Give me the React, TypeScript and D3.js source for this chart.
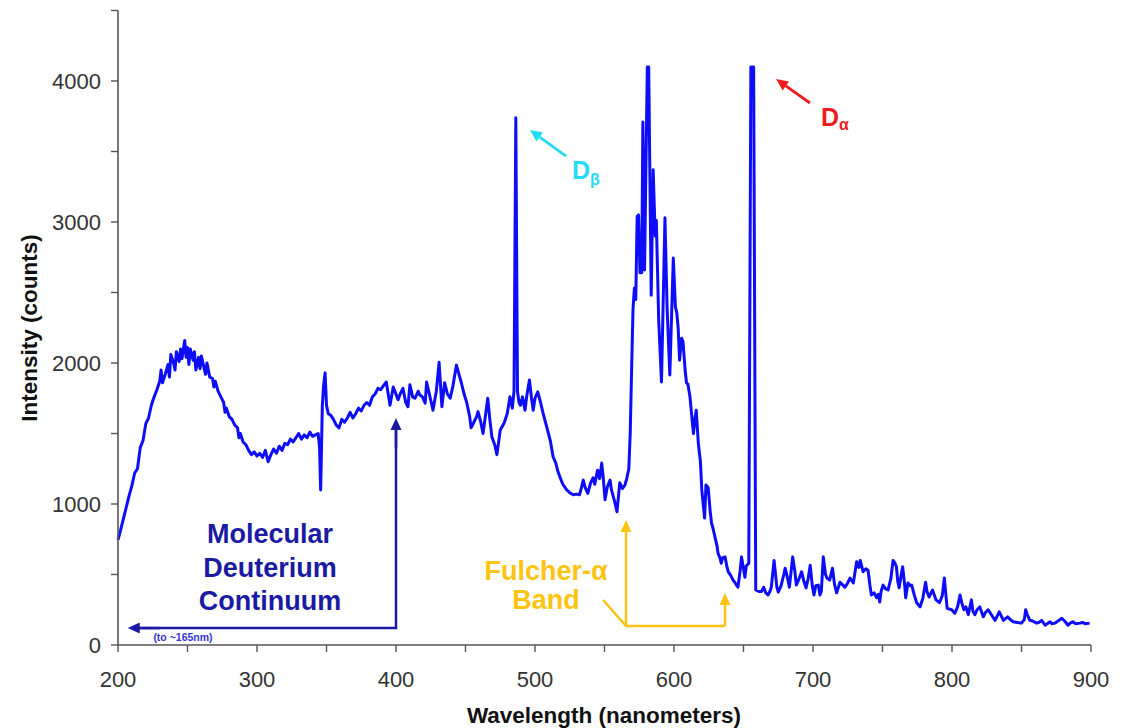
import React from 'react';
import * as d3 from 'd3';

// Spectrum (wavelength in nm, intensity in counts)
const wavelength = [
  200, 202, 204, 206, 208, 210, 212, 214, 216, 218, 220, 222, 224, 226, 228, 230, 231, 232, 234, 236, 237, 238, 240, 241, 242, 244, 245, 246, 248, 249,
  250, 251, 252, 254, 255, 256, 258, 259, 260, 262, 263, 264, 266, 268, 269, 270, 272, 274, 276, 277, 278, 280, 282, 284, 286, 287, 288, 290, 292, 294,
  296, 298, 300, 302, 304, 306, 308, 310, 312, 314, 316, 318, 320, 322, 324, 326, 328, 330, 332, 334, 336, 338, 340, 342, 344, 345, 345.8, 347, 348, 349,
  350, 351.3, 353, 355, 357, 359, 361, 363, 365, 367, 369, 371, 373, 375, 377, 379, 381, 383, 385, 387, 389, 391, 393, 395.7, 398, 401.5, 403, 405, 407, 408.6,
  410, 412, 413.7, 416, 417, 419, 421, 422, 424, 426.6, 429, 431, 433, 435, 437, 439, 441, 443.5, 445, 447, 449, 451, 453, 454, 456, 458, 459, 461, 462.6, 464,
  466, 467.5, 469, 471, 472.6, 474, 475, 477, 478, 480, 482, 483.7, 484.9, 486.2, 487.4, 488.5, 489.5, 491, 492.8, 494, 496, 497.5, 498.7, 500, 502, 504, 505.8, 507, 509, 511,
  513, 515, 516.5, 518, 520, 522.8, 525, 527.5, 530, 532, 533.5, 534.7, 536, 538, 540, 541.8, 543, 545, 546.5, 548, 549, 550.4, 552, 554, 555, 556, 557.5, 559, 560, 561,
  563, 564.7, 566, 567.5, 568.5, 569.5, 570.5, 571.5, 572.5, 573.5, 574.5, 575.5, 576.8, 577.6, 578.8, 580.8, 581.8, 583.6, 585, 586.5, 587.3, 589, 591, 593.5, 595, 597, 599.5, 601, 602, 603,
  604, 605.5, 606.5, 608, 609, 610, 611.5, 613, 614, 615, 616, 617.5, 619, 620, 621, 622, 623, 624.6, 626, 627, 628, 629.5, 631, 631.7, 633, 634, 635, 636.7, 638, 639,
  641, 642.5, 644, 646, 647.5, 648.6, 650, 651, 652, 653.8, 655.3, 657.3, 658.8, 661, 663, 664.5, 666, 667.6, 669, 670, 672, 674, 675, 677, 679, 680, 682, 683, 685.4, 687,
  688, 690, 691.8, 693.5, 695, 696.5, 698, 699.5, 700.7, 702, 703.8, 705, 706, 707.4, 709, 710, 712, 714, 715.5, 717, 719.4, 721, 723, 725, 726.6, 729, 731.4, 733, 734, 736,
  738, 739.6, 741, 742, 744, 745.8, 747, 748, 749, 750.4, 752, 754, 756, 757.6, 759, 760, 761, 762, 763, 764.5, 766, 766.7, 768.3, 770, 771, 773, 774.6, 777, 779, 781,
  782, 783.5, 786, 788.5, 791, 793, 794.5, 796.5, 799.8, 802, 804, 805.8, 807, 808.6, 810, 811.7, 814, 815, 816.5, 818, 820, 822.5, 824, 826, 828, 831, 834, 837, 840, 842,
  844, 847, 850, 852, 853, 854, 856, 858, 861, 862.5, 864.5, 867, 870.5, 872, 874, 877, 879, 881, 883.5, 885, 887, 889, 892, 894, 896, 899,
];

const intensity = [
  745, 820, 900, 980, 1060, 1130, 1220, 1250, 1400, 1450, 1570, 1610, 1700, 1760, 1810, 1870, 1950, 1860, 1920, 1990, 1900, 2060, 2000, 1950, 2080, 2010, 2100, 2030, 2160, 2040,
  2110, 1990, 2100, 2020, 2080, 1950, 2040, 1960, 2050, 1960, 1920, 2000, 1900, 1890, 1830, 1870, 1800, 1760, 1720, 1650, 1680, 1620, 1600, 1560, 1540, 1470, 1500, 1440, 1420, 1380,
  1350, 1370, 1340, 1360, 1330, 1380, 1300, 1350, 1390, 1360, 1410, 1380, 1430, 1420, 1460, 1440, 1470, 1500, 1460, 1490, 1470, 1510, 1480, 1490, 1500, 1400, 1100, 1700, 1850, 1930,
  1700, 1640, 1630, 1600, 1560, 1540, 1600, 1580, 1610, 1650, 1610, 1640, 1680, 1660, 1700, 1720, 1700, 1760, 1780, 1820, 1810, 1840, 1865, 1700, 1830, 1740, 1780, 1820, 1720, 1690,
  1845, 1760, 1750, 1800, 1775, 1760, 1715, 1865, 1780, 1665, 1800, 2005, 1690, 1860, 1780, 1750, 1840, 1985, 1930, 1860, 1780, 1715, 1620, 1540, 1580, 1620, 1655, 1580, 1500, 1600,
  1750, 1600, 1475, 1420, 1350, 1450, 1525, 1560, 1580, 1640, 1760, 1680, 1800, 3740, 1800, 1720, 1700, 1760, 1665, 1760, 1880, 1750, 1665, 1750, 1795, 1720, 1645, 1600, 1525, 1450,
  1335, 1290, 1230, 1190, 1140, 1100, 1080, 1065, 1070, 1065, 1120, 1170, 1120, 1075, 1150, 1185, 1140, 1240, 1180, 1290, 1200, 1030, 1120, 1170, 1100, 1065, 1010, 945, 1050, 1150,
  1110, 1135, 1180, 1250, 1500, 1950, 2380, 2530, 2450, 3040, 3050, 2640, 2640, 3710, 2660, 4100, 4100, 2480, 3370, 2900, 3010, 2300, 1865, 3030, 2400, 1915, 2745, 2400, 2355, 2250,
  2020, 2175, 2150, 1950, 1860, 1850, 1760, 1600, 1500, 1600, 1665, 1430, 1300, 1100, 1000, 900, 1135, 1115, 950, 865, 830, 765, 700, 650, 620, 580, 620, 625, 560, 520,
  490, 460, 440, 410, 520, 625, 540, 480, 560, 580, 4100, 4100, 390, 380, 380, 410, 370, 355, 380, 410, 600, 410, 375, 420, 500, 545, 460, 410, 625, 520,
  425, 470, 520, 450, 405, 470, 565, 420, 355, 420, 425, 355, 380, 625, 500, 475, 460, 545, 430, 370, 445, 430, 410, 440, 475, 440, 590, 550, 600, 520,
  540, 530, 420, 355, 370, 335, 360, 305, 380, 425, 400, 390, 470, 600, 580, 555, 450, 405, 470, 555, 420, 335, 440, 420, 425, 350, 300, 270, 330, 445,
  380, 340, 390, 320, 300, 350, 475, 260, 250, 225, 270, 355, 300, 250, 270, 215, 320, 240, 215, 250, 270, 200, 230, 250, 220, 175, 235, 175, 200, 180,
  165, 160, 155, 180, 250, 220, 175, 170, 155, 160, 175, 140, 165, 150, 155, 175, 190, 170, 140, 155, 165, 150, 155, 160, 150, 155,
];

const xMajorTicks = [200, 300, 400, 500, 600, 700, 800, 900];
const xMinorTicks = [250, 350, 450, 550, 650, 750, 850];
const yMajorTicks = [0, 1000, 2000, 3000, 4000];
const yMinorTicks = [500, 1500, 2500, 3500, 4500];

const xLabel = 'Wavelength (nanometers)';
const yLabel = 'Intensity (counts)';
const continuumLines = ['Molecular', 'Deuterium', 'Continuum'];
const continuumNote = '(to ~165nm)';
const fulcherLines = ['Fulcher-α', 'Band'];

const FONT = "'Liberation Sans', Arial, Helvetica, sans-serif";

function Arrow({ x1, y1, x2, y2, color, width = 2.5, head = 12, hw = 5.5 }: any) {
  const ang = Math.atan2(y2 - y1, x2 - x1);
  const bx = x2 - head * Math.cos(ang);
  const by = y2 - head * Math.sin(ang);
  const px = -Math.sin(ang) * hw;
  const py = Math.cos(ang) * hw;
  return (
    <g>
      <line x1={x1} y1={y1} x2={bx} y2={by} stroke={color} strokeWidth={width} />
      <polygon points={`${x2},${y2} ${bx + px},${by + py} ${bx - px},${by - py}`} fill={color} />
    </g>
  );
}

export default function App() {
  const W = 1125;
  const H = 728;
  const x = d3.scaleLinear().domain([200, 900]).range([118, 1091]);
  const y = d3.scaleLinear().domain([0, 4500]).range([645, 10.5]);

  const pts: [number, number][] = wavelength.map((w, i) => [w, intensity[i]]);
  const line = d3
    .line<[number, number]>()
    .x((d) => x(d[0]))
    .y((d) => y(d[1]))
    .curve(d3.curveLinear);

  const axisColor = '#555';
  const tickText = '#333';
  const navy = '#1a1aa3';
  const gold = '#ffc412';
  const cyan = '#22dcf5';
  const red = '#ee1c1c';

  return (
    <svg
      width={W}
      height={H}
      viewBox={`0 0 ${W} ${H}`}
      style={{ position: 'absolute', left: 0, top: 0, background: '#fff' }}
      fontFamily={FONT}
    >
      <rect x={0} y={0} width={W} height={H} fill="#fff" />

      {/* Spectrum */}
      <path d={line(pts) || ''} fill="none" stroke="#0d0dfa" strokeWidth={3} strokeLinejoin="round" />

      {/* Axes */}
      <line x1={x(200)} y1={y(4500)} x2={x(200)} y2={y(0)} stroke={axisColor} strokeWidth={1.6} />
      <line x1={x(200)} y1={y(0)} x2={x(900)} y2={y(0)} stroke={axisColor} strokeWidth={1.6} />
      {yMajorTicks.concat(yMinorTicks).map((t) => (
        <line key={'yt' + t} x1={x(200) - 7} x2={x(200)} y1={y(t)} y2={y(t)} stroke={axisColor} strokeWidth={1.4} />
      ))}
      {xMajorTicks.concat(xMinorTicks).map((t) => (
        <line key={'xt' + t} x1={x(t)} x2={x(t)} y1={y(0)} y2={y(0) + 7} stroke={axisColor} strokeWidth={1.4} />
      ))}
      {yMajorTicks.map((t) => (
        <text key={'yl' + t} x={x(200) - 17} y={y(t) + 7.5} textAnchor="end" fontSize={22} fill={tickText}>
          {t}
        </text>
      ))}
      {xMajorTicks.map((t) => (
        <text key={'xl' + t} x={x(t)} y={687} textAnchor="middle" fontSize={22} fill={tickText}>
          {t}
        </text>
      ))}
      <text x={604} y={723} textAnchor="middle" fontSize={22.5} fontWeight="bold" fill="#111">
        {xLabel}
      </text>
      <text
        transform={`translate(37, 328) rotate(-90)`}
        textAnchor="middle"
        fontSize={22.5}
        fontWeight="bold"
        fill="#111"
      >
        {yLabel}
      </text>

      {/* Molecular deuterium continuum annotation */}
      {continuumLines.map((s, i) => (
        <text key={s} x={270} y={543 + i * 33.5} textAnchor="middle" fontSize={27} fontWeight="bold" fill={navy}>
          {s}
        </text>
      ))}
      <polyline
        points={`${x(207) + 10},${y(120)} ${x(400)},${y(120)} ${x(400)},${y(1610) + 10}`}
        fill="none"
        stroke={navy}
        strokeWidth={2.5}
      />
      <Arrow x1={x(230)} y1={y(120)} x2={x(207)} y2={y(120)} color={navy} />
      <Arrow x1={x(400)} y1={y(1400)} x2={x(400)} y2={y(1610)} color={navy} />
      <text x={183} y={641} textAnchor="middle" fontSize={10.5} fontWeight="bold" fill="#3535d0">
        {continuumNote}
      </text>

      {/* Fulcher band annotation */}
      {fulcherLines.map((s, i) => (
        <text key={s} x={546} y={580 + i * 28.5} textAnchor="middle" fontSize={27} fontWeight="bold" fill={gold}>
          {s}
        </text>
      ))}
      <polyline
        points={`${x(549)},${y(319)} ${x(565.5)},${y(135)} ${x(636.7)},${y(135)}`}
        fill="none"
        stroke={gold}
        strokeWidth={2.5}
      />
      <Arrow x1={x(565.5)} y1={y(135)} x2={x(565.5)} y2={y(887)} color={gold} />
      <Arrow x1={x(636.7)} y1={y(135)} x2={x(636.7)} y2={y(369)} color={gold} />

      {/* D-beta */}
      <Arrow x1={x(522.3)} y1={y(3468)} x2={x(496.4)} y2={y(3652)} color={cyan} width={2.8} />
      <text x={572} y={179} fontSize={25} fontWeight="bold" fill={cyan}>
        D
        <tspan fontSize={16} dy={6}>
          β
        </tspan>
      </text>

      {/* D-alpha */}
      <Arrow x1={x(697.8)} y1={y(3844)} x2={x(673.4)} y2={y(4014)} color={red} width={2.8} />
      <text x={821} y={126} fontSize={25} fontWeight="bold" fill={red}>
        D
        <tspan fontSize={16} dy={4}>
          α
        </tspan>
      </text>
    </svg>
  );
}
